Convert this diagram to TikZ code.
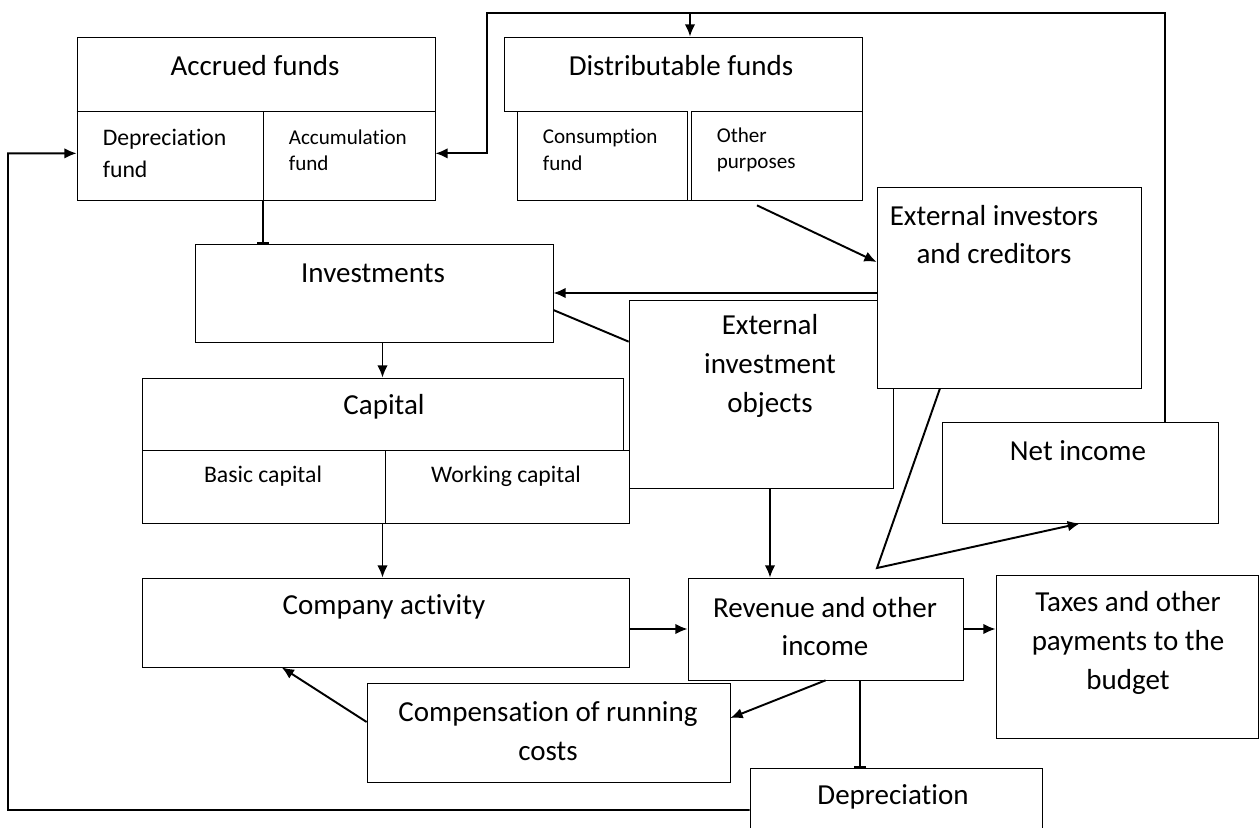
\documentclass[tikz,border=0pt]{standalone}
\usepackage{fontspec}
\setmainfont{Carlito}[Ligatures=NoCommon]
\usetikzlibrary{arrows.meta}

\begin{document}
\begin{tikzpicture}[line width=1.1pt, >={Latex[length=7pt,width=6pt]},
    box/.style={draw, rectangle, thin, fill=white, inner sep=0pt},
    big/.style={font=\fontsize{16.5}{22}\selectfont, align=center},
    sub/.style={font=\fontsize{13.5}{18.5}\selectfont, align=left, anchor=west},
    minor/.style={font=\fontsize{12}{15}\selectfont, align=left, anchor=west}]
    \clip (0,0) rectangle (25.2,-16.54);

    % Caixas
    \node[box, minimum width=7.16cm, minimum height=3.26cm] (acc) at (5.12,-2.37) {};
    \node[box, minimum width=7.16cm, minimum height=1.48cm] (disth) at (13.66,-1.48) {};
    \node[box, minimum width=6.9cm, minimum height=1.78cm] (distl) at (13.79,-3.11) {};
    \node[box, minimum width=7.16cm, minimum height=1.96cm] (inv) at (7.48,-5.86) {};
    \node[box, minimum width=9.62cm, minimum height=1.44cm] (caph) at (7.65,-8.28) {};
    \node[box, minimum width=9.74cm, minimum height=1.46cm] (capl) at (7.71,-9.73) {};
    \node[box, minimum width=5.28cm, minimum height=3.76cm] (eio) at (15.22,-7.88) {};
    \node[box, minimum width=5.28cm, minimum height=4.02cm] (eic) at (20.18,-5.75) {};
    \node[box, minimum width=5.52cm, minimum height=2.02cm] (net) at (21.6,-9.45) {};
    \node[box, minimum width=9.74cm, minimum height=1.78cm] (comp) at (7.71,-12.45) {};
    \node[box, minimum width=5.5cm, minimum height=2.04cm] (rev) at (16.51,-12.58) {};
    \node[box, minimum width=5.24cm, minimum height=3.26cm] (tax) at (22.54,-13.13) {};
    \node[box, minimum width=7.26cm, minimum height=1.98cm] (run) at (10.97,-14.65) {};
    \node[box, minimum width=5.84cm, minimum height=1.44cm] (dep) at (17.92,-16.08) {};

    % Divisoes internas
    \draw[thin] ([yshift=1.78cm]acc.south west) -- ([yshift=1.78cm]acc.south east);
    \coordinate (accmid) at (5.26,-4.0);
    \draw[thin] (accmid) -- ++(0,1.78);
    \draw[thin, double, double distance=1.6pt] (distl.south) -- (distl.north);
    \draw[thin] (capl.south) -- (capl.north);

    % Textos
    \node[big] (acc-t) at (5.10,-1.32) {Accrued funds};
    \node[sub] (accd-t) at (1.92,-3.07) {Depreciation\\fund};
    \node[minor] (acca-t) at (5.64,-3.0) {Accumulation\\fund};
    \node[big] (dist-t) at (13.62,-1.32) {Distributable funds};
    \node[minor] (cons-t) at (10.72,-3.0) {Consumption\\fund};
    \node[minor] (oth-t) at (14.2,-3.0) {Other\\purposes};
    \node[big] (inv-t) at (7.46,-5.46) {Investments};
    \node[big] (cap-t) at (7.68,-8.14) {Capital};
    \node[sub, anchor=center] (bas-t) at (5.26,-9.52) {Basic capital};
    \node[sub, anchor=center] (work-t) at (10.12,-9.52) {Working capital};
    \node[big] (eio-t) at (15.4,-7.32) {External\\investment\\objects};
    \node[big] (eic-t) at (19.88,-4.69) {External investors\\and creditors};
    \node[big] (net-t) at (21.56,-9.02) {Net income};
    \node[big] (comp-t) at (7.68,-12.14) {Company activity};
    \node[big] (rev-t) at (16.5,-12.53) {Revenue and other\\income};
    \node[big] (tax-t) at (22.56,-12.86) {Taxes and other\\payments to the\\budget};
    \node[big] (run-t) at (10.96,-14.62) {Compensation of running\\costs};
    \node[big] (dep-t) at (17.86,-15.94) {Depreciation};

    % Pontos das linhas de retorno
    \coordinate (topr) at (23.3,-0.26);
    \coordinate (topl) at (9.74,-0.26);
    \coordinate (topm) at (13.8,-0.26);
    \coordinate (lft) at (0.16,-16.2);
    \coordinate (kink) at (17.54,-11.36);
    \coordinate (eiob) at ([xshift=0.18cm]eio.south);
    \coordinate (revb) at ([xshift=0.69cm]rev.south);

    % Setas
    \draw[->] (net.north -| topr) |- (topl) |- ([yshift=0.94cm]acc.south east);
    \draw[->] (topm) -- (topm |- disth.north);
    \draw[->] ([yshift=-0.12cm]dep.west) -- (lft) |- ([yshift=0.94cm]acc.south west);
    \draw[-{Bar[width=7pt]}] (accmid) -- (accmid |- inv.north);
    \draw[->] (eic.west |- inv.east) -- (inv.east);
    \draw ([yshift=-0.34cm]inv.east) -- ([yshift=-0.84cm]eio.north west);
    \draw[->] (caph.north |- inv.south) -- (caph.north);
    \draw[->] ([xshift=1.35cm,yshift=-0.1cm]distl.south) -- ([yshift=0.51cm]eic.west);
    \draw[->] ([xshift=-1.38cm]eic.south) -- (kink) -- (net.south);
    \draw[->] (eiob) -- (eiob |- rev.north);
    \draw[->] (caph.north |- capl.south) -- (caph.north |- comp.north);
    \draw[->] (comp.east |- rev.west) -- (rev.west);
    \draw[->] (rev.east) -- (rev.east -| tax.west);
    \draw[->] (rev.south) -- ([yshift=0.29cm]run.east);
    \draw[->] ([yshift=0.21cm]run.west) -- ([xshift=2.8cm]comp.south west);
    \draw[-{Bar[width=7pt]}] (revb) -- (revb |- dep.north);
  \end{tikzpicture}
\end{document}
